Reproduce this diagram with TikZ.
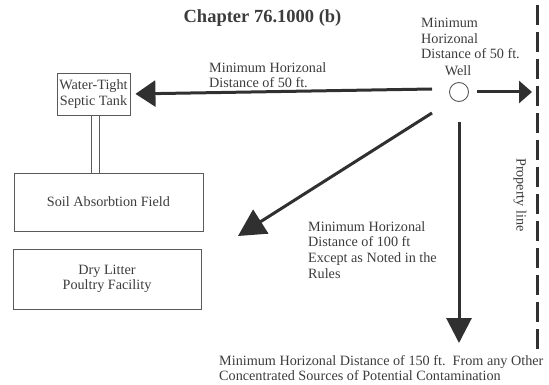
\documentclass[tikz,border=0pt]{standalone}
\usepackage{fontspec}
\setmainfont{Liberation Serif}
\usetikzlibrary{arrows.meta}
\definecolor{ink}{HTML}{303030}
\definecolor{txt}{HTML}{3C3C3C}
\definecolor{boxc}{HTML}{5A5A5A}
\tikzset{
  lbl/.style={inner sep=0pt, text=txt, align=left, anchor=base west, font=\fontsize{14.2}{15.6}\selectfont},
  boxlbl/.style={draw=boxc, line width=0.9pt, text=txt, align=center, font=\fontsize{14.2}{15.6}\selectfont, inner sep=0pt},
  bigarrow/.style={draw=ink, line width=3pt},
  thinline/.style={draw=boxc, line width=0.9pt},
}
\begin{document}
\begin{tikzpicture}[x=1pt,y=-1pt]
\useasboundingbox (0,0) rectangle (549,385);
% title
\node[font=\fontsize{18.5}{20}\bfseries\selectfont, text=txt, inner sep=0pt, anchor=base] (title) at (262.5,23) {Chapter 76.1000 (b)};
% well
\node[draw=boxc, circle, minimum size=19pt, inner sep=0pt, line width=0.9pt] (well) at (459,92) {};
\node[lbl, anchor=base, align=center] (welllbl) at (458,76) {Well};
\node[lbl] (welltxt) at (421,59) {Minimum\\Horizonal\\Distance of 50 ft.};
% property line
\coordinate (pltop) at (537,5);
\coordinate (plbot) at (537,355);
\draw[ink, line width=3pt, dash pattern=on 20pt off 7pt] (pltop) -- (plbot);
\node[lbl, anchor=center, rotate=-90] (pl) at (520,195) {Property line};
% boxes
\node[boxlbl, minimum width=73pt, minimum height=42pt] (tank) at (93.5,94) {Water-Tight\\Septic Tank};
\node[boxlbl, minimum width=189pt, minimum height=58pt] (soil) at (108.5,202) {Soil Absorbtion Field};
\node[boxlbl, minimum width=188pt, minimum height=60pt] (dry) at (107,279) {Dry Litter\\Poultry Facility};
% double pipe from tank to soil field
\coordinate (pa) at (91,0);
\coordinate (pb) at (99,0);
\draw[thinline] (pa |- tank.south) -- (pa |- soil.north);
\draw[thinline] (pb |- tank.south) -- (pb |- soil.north);
% arrows
\coordinate (lstart) at (432,89);
\draw[bigarrow, shorten >=5pt, -{Triangle[length=20pt,width=26pt]}] (lstart) -- (tank.east);
\node[lbl] (ltxt) at (209,88) {Minimum Horizonal\\Distance of 50 ft.};
\coordinate (rstart) at (477,92);
\coordinate (rend) at (532,92);
\draw[bigarrow, -{Triangle[length=13pt,width=22pt]}] (rstart) -- (rend);
\coordinate (dstart) at (432,113);
\coordinate (dend) at (238,236);
\draw[bigarrow, -{Triangle[length=27pt,width=28pt]}] (dstart) -- (dend);
\node[lbl] (dtxt) at (308,278) {Minimum Horizonal\\Distance of 100 ft\\Except as Noted in the\\Rules};
\coordinate (vstart) at (459,122);
\coordinate (vend) at (459,343);
\draw[bigarrow, -{Triangle[length=25pt,width=25pt]}] (vstart) -- (vend);
\node[lbl, font=\fontsize{14.2}{15}\selectfont] (btxt) at (219,380) {Minimum Horizonal Distance of 150 ft.\ \ From any Other\\Concentrated Sources of Potential Contamination};
\end{tikzpicture}
\end{document}
